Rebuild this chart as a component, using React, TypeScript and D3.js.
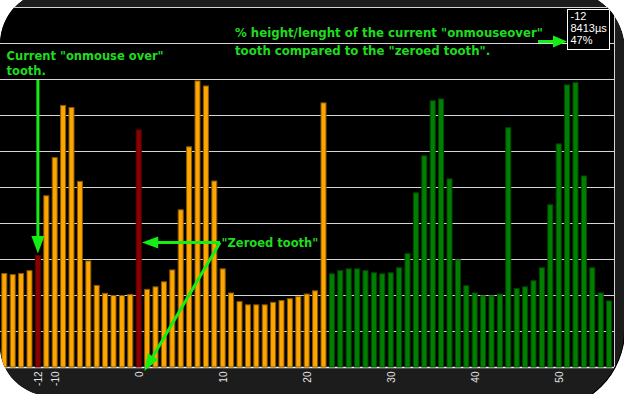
import React from "react";
import * as d3 from "d3";

const toothIndex: number[] = d3.range(-16, 57);
const toothValues: number[] = [
  26.1, 25.8, 26.1, 26.9, 31.1, 47.7, 58.3, 72.8, 72.2, 51.7,
  29.6, 22.8, 20.6, 20.0, 20.0, 20.3, 66.0, 21.7, 22.4, 23.8,
  27.1, 43.8, 61.3, 79.6, 78.2, 51.8, 27.4, 20.7, 18.3, 17.4,
  17.4, 17.4, 18.1, 18.6, 19.1, 19.7, 20.4, 21.3, 73.5, 26.0,
  26.9, 27.4, 27.4, 26.9, 26.3, 26.0, 26.3, 27.7, 31.6, 48.5,
  58.8, 74.1, 74.6, 52.4, 29.9, 22.7, 20.7, 19.9, 19.9, 20.4,
  66.6, 21.9, 22.4, 24.1, 27.7, 45.2, 62.1, 78.5, 79.1, 53.2,
  27.7, 20.7, 18.5,
];
const highlightedTeeth: number[] = [-12, 0];
const lastFirstGroupTooth = 22;
const tickLabels: number[] = [-12, -10, 0, 10, 20, 30, 40, 50];
const gridValues: number[] = d3.range(0, 101, 10);
const tooltipLines: string[] = ["-12", "8413\u00b5s", "47%"];
const noteCurrent: string[] = ["Current \"onmouse over\"", "tooth."];
const notePercent: string[] = [
  "% height/lenght of the current \"onmouseover\"",
  "tooth compared to the \"zeroed tooth\".",
];
const noteZeroed = "\"Zeroed tooth\"";

const W = 624;
const H = 394;
const plot = { left: 0, right: 614, top: 7, bottom: 367 };

export default function App() {
  const x = d3
    .scaleBand<number>()
    .domain(toothIndex)
    .range([0.1, 613.3])
    .paddingInner(0.2857)
    .paddingOuter(0.14285);
  const y = d3.scaleLinear().domain([0, 100]).range([plot.bottom, plot.top]);
  const bw = x.bandwidth();
  const cx = (i: number) => (x(i) as number) + bw / 2;

  const fillFor = (i: number) =>
    highlightedTeeth.includes(i) ? "#8b0000" : i <= lastFirstGroupTooth ? "#ffa500" : "#008000";
  const strokeFor = (i: number) =>
    highlightedTeeth.includes(i) ? "#5a0000" : i <= lastFirstGroupTooth ? "#8a5a00" : "#004a00";

  const framePath =
    "M0,44 A54,54 0 0 1 54,-10 L565,-10 A60,60 0 0 1 625,50 L625,330 A80,80 0 0 1 545,410 L50,396 A50,50 0 0 1 0,346 Z";

  const green = "#14ee14";
  const textGreen = "#1fdc1f";
  const font = "'Liberation Sans', Arial, sans-serif";
  const noteFont = "'DejaVu Sans', Verdana, sans-serif";
  const noteSize = 11.5;

  const curX = cx(highlightedTeeth[0]);
  const zeroX = cx(highlightedTeeth[1]);
  const joint = { x: 220, y: 242.5 };
  const tip3 = { x: zeroX + 5.7, y: 371 };
  const dx = tip3.x - joint.x;
  const dy = tip3.y - joint.y;
  const len = Math.hypot(dx, dy);
  const ux = dx / len;
  const uy = dy / len;
  const hl = 17;
  const hw = 6;
  const base3 = { x: tip3.x - ux * hl, y: tip3.y - uy * hl };

  return (
    <svg
      width={W}
      height={H}
      style={{ position: "absolute", left: 0, top: 0, display: "block" }}
    >
      <defs>
        <clipPath id="frameClip">
          <path d={framePath} />
        </clipPath>
      </defs>
      <rect x={0} y={0} width={W} height={H} fill="#ffffff" />
      <g clipPath="url(#frameClip)">
        <path d={framePath} fill="#1c1c1c" />
        <rect
          x={plot.left - 1}
          y={plot.top}
          width={plot.right - plot.left + 1}
          height={plot.bottom - plot.top}
          fill="#000000"
        />
        {gridValues.map((v) => (
          <line
            key={v}
            x1={plot.left}
            x2={plot.right}
            y1={Math.round(y(v)) + 0.5}
            y2={Math.round(y(v)) + 0.5}
            stroke={v === 0 ? "#f0f0f0" : "#d4d4d4"}
            strokeWidth={v === 0 ? 1.5 : 1}
          />
        ))}
        <line
          x1={plot.right + 0.5}
          x2={plot.right + 0.5}
          y1={plot.top}
          y2={plot.bottom}
          stroke="#d4d4d4"
          strokeWidth={1}
        />
        {toothIndex.map((i, k) => {
          const top = y(toothValues[k]);
          return (
            <rect
              key={i}
              x={(x(i) as number) + 0.5}
              y={top + 0.5}
              width={bw - 1}
              height={plot.bottom - top - 0.5}
              fill={fillFor(i)}
              stroke={strokeFor(i)}
              strokeWidth={1}
            />
          );
        })}
        {tickLabels.map((t) => (
          <text
            key={t}
            transform={`translate(${cx(t) + 4},${plot.bottom + 4.5}) rotate(-90)`}
            textAnchor="end"
            fontFamily={font}
            fontSize={10}
            fill="#e4e4e4"
          >
            {t}
          </text>
        ))}
        <path d="M545,410 A80,80 0 0 0 625,330" fill="none" stroke="#000" strokeWidth={2} />

        {noteCurrent.map((s, k) => (
          <text
            key={s}
            x={6.5}
            y={60 + k * 15}
            fontFamily={noteFont}
            fontWeight="bold"
            fontSize={noteSize}
            fill={textGreen}
          >
            {s}
          </text>
        ))}
        {notePercent.map((s, k) => (
          <text
            key={s}
            x={235}
            y={37 + k * 17.5}
            fontFamily={noteFont}
            fontWeight="bold"
            fontSize={11.75}
            fill={textGreen}
          >
            {s}
          </text>
        ))}
        <text
          x={221.5}
          y={246.5}
          fontFamily={noteFont}
          fontWeight="bold"
          fontSize={noteSize}
          fill={textGreen}
        >
          {noteZeroed}
        </text>

        <line x1={curX} x2={curX} y1={80} y2={240} stroke={green} strokeWidth={3} />
        <polygon
          points={`${curX - 6.5},236 ${curX + 6.5},236 ${curX},253.5`}
          fill={green}
        />
        <line x1={joint.x} x2={157} y1={joint.y} y2={joint.y} stroke={green} strokeWidth={3} />
        <polygon
          points={`${zeroX + 19.5},${joint.y - 6} ${zeroX + 19.5},${joint.y + 6} ${zeroX + 3.2},${joint.y}`}
          fill={green}
        />
        <line
          x1={joint.x}
          y1={joint.y}
          x2={base3.x}
          y2={base3.y}
          stroke={green}
          strokeWidth={3}
        />
        <polygon
          points={`${base3.x - uy * hw},${base3.y + ux * hw} ${base3.x + uy * hw},${base3.y - ux * hw} ${tip3.x},${tip3.y}`}
          fill={green}
        />
        <line x1={538} x2={554} y1={41.5} y2={41.5} stroke={green} strokeWidth={3} />
        <polygon points="553,35.5 553,47.5 567,41.5" fill={green} />

        <rect x={567.5} y={9.5} width={42} height={40} fill="#000" stroke="#ffffff" strokeWidth={1} />
        {tooltipLines.map((s, k) => (
          <text key={s} x={570.5} y={20 + k * 12} fontFamily={font} fontSize={11} fill="#ffffff">
            {s}
          </text>
        ))}
      </g>
    </svg>
  );
}
